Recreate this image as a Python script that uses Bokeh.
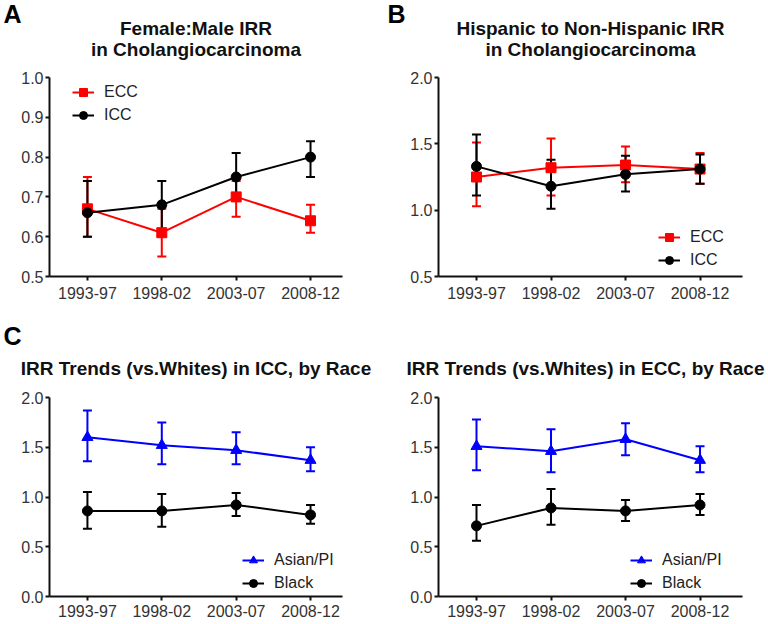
from bokeh.plotting import figure
from bokeh.models import (Range1d, FixedTicker, PrintfTickFormatter, Whisker, TeeHead,
                          ColumnDataSource, Legend, LegendItem, Title)
from bokeh.layouts import column, row
from bokeh.embed import file_html
from bokeh.resources import INLINE

FONT = "Liberation Sans"

periods = ["1993-97", "1998-02", "2003-07", "2008-12"]

# Panel A: Female:Male IRR
a_ecc = [0.67, 0.61, 0.70, 0.64]
a_ecc_lo = [0.60, 0.55, 0.65, 0.61]
a_ecc_hi = [0.75, 0.67, 0.74, 0.68]
a_icc = [0.66, 0.68, 0.75, 0.80]
a_icc_lo = [0.60, 0.62, 0.69, 0.75]
a_icc_hi = [0.74, 0.74, 0.81, 0.84]
a_yticks = [0.5, 0.6, 0.7, 0.8, 0.9, 1.0]

# Panel B: Hispanic to Non-Hispanic IRR
b_ecc = [1.25, 1.32, 1.34, 1.31]
b_ecc_lo = [1.03, 1.11, 1.21, 1.20]
b_ecc_hi = [1.51, 1.54, 1.48, 1.43]
b_icc = [1.33, 1.18, 1.27, 1.31]
b_icc_lo = [1.11, 1.01, 1.14, 1.20]
b_icc_hi = [1.57, 1.38, 1.41, 1.42]
b_yticks = [0.5, 1.0, 1.5, 2.0]

# Panel C: ICC by race
c_asian = [1.60, 1.52, 1.47, 1.37]
c_asian_lo = [1.36, 1.33, 1.33, 1.26]
c_asian_hi = [1.87, 1.75, 1.65, 1.50]
c_black = [0.86, 0.86, 0.92, 0.82]
c_black_lo = [0.68, 0.70, 0.81, 0.73]
c_black_hi = [1.05, 1.03, 1.04, 0.92]

# Panel D: ECC by race
d_asian = [1.51, 1.46, 1.58, 1.37]
d_asian_lo = [1.27, 1.25, 1.42, 1.25]
d_asian_hi = [1.78, 1.68, 1.74, 1.51]
d_black = [0.71, 0.89, 0.86, 0.92]
d_black_lo = [0.56, 0.72, 0.76, 0.82]
d_black_hi = [0.92, 1.08, 0.97, 1.03]
cd_yticks = [0.0, 0.5, 1.0, 1.5, 2.0]

titles = {
    "A": "Female:Male IRR\nin Cholangiocarcinoma",
    "B": "Hispanic to Non-Hispanic IRR\nin Cholangiocarcinoma",
    "C": "IRR Trends (vs.Whites) in ICC, by Race",
    "D": "IRR Trends (vs.Whites) in ECC, by Race",
}

RED = "#ff0000"
BLACK = "#000000"
BLUE = "#0000ff"
TEXT = "#333333"


def style_main_title(t, align, offset, standoff, valign):
    t.align = align
    t.offset = offset
    t.text_font = FONT
    t.text_font_size = "19px"
    t.text_font_style = "bold"
    t.text_color = "#111111"
    t.standoff = standoff
    t.text_align = "center"
    t.vertical_align = valign


def make_panel(title, title_align, title_offset, title_standoff, title_valign, letter,
               letter_offset, letter_standoff, width, height, borders, xr, yr, yticks,
               series, legend_loc, label_standoff):
    bl, br, bt, bb = borders
    p = figure(width=width, height=height, output_backend="svg", toolbar_location=None,
               x_range=Range1d(*xr), y_range=Range1d(*yr),
               title=(letter if letter else title),
               min_border_left=bl, min_border_right=br, min_border_top=bt,
               min_border_bottom=bb)
    p.outline_line_color = None
    p.grid.visible = False
    p.background_fill_color = "white"
    p.border_fill_color = "white"

    if letter:
        # panel letter is the outermost title; main title sits between it and the frame
        lt = p.title
        lt.align = "left"
        lt.offset = letter_offset
        lt.text_font = FONT
        lt.text_font_size = "25px"
        lt.text_font_style = "bold"
        lt.text_color = "#000000"
        try:
            lt.standoff = letter_standoff
        except Exception:
            lt.standoff = 0
        mt = Title(text=title)
        style_main_title(mt, title_align, title_offset, title_standoff, title_valign)
        p.add_layout(mt, "above")
    else:
        style_main_title(p.title, title_align, title_offset, title_standoff, title_valign)

    xs = list(range(len(periods)))
    for ax in (p.xaxis[0], p.yaxis[0]):
        ax.axis_line_width = 2
        ax.axis_line_color = "#111111"
        ax.major_tick_line_width = 2
        ax.major_tick_line_color = "#111111"
        ax.major_tick_in = 0
        ax.major_tick_out = 4
        ax.minor_tick_line_color = None
        ax.major_label_text_font = FONT
        ax.major_label_text_font_size = "16px"
        ax.major_label_text_color = TEXT
    p.xaxis.ticker = FixedTicker(ticks=xs)
    p.xaxis.major_label_overrides = {i: periods[i] for i in xs}
    p.xaxis.major_label_standoff = label_standoff
    p.yaxis.ticker = FixedTicker(ticks=yticks)
    p.yaxis.formatter = PrintfTickFormatter(format="%.1f")
    p.yaxis.major_label_standoff = 2

    items = []
    for name, vals, lo, hi, color, marker, msize in series:
        src = ColumnDataSource(dict(x=xs, y=vals, lo=lo, hi=hi))
        w = Whisker(base="x", upper="hi", lower="lo", source=src, line_color=color,
                    line_width=2,
                    upper_head=TeeHead(size=9, line_color=color, line_width=2),
                    lower_head=TeeHead(size=9, line_color=color, line_width=2))
        p.add_layout(w)
        ln = p.line("x", "y", source=src, line_color=color, line_width=2)
        sc = p.scatter("x", "y", source=src, marker=marker, size=msize,
                       fill_color=color, line_color=color)
        items.append(LegendItem(label=name, renderers=[ln, sc]))

    leg = Legend(items=items, location=legend_loc, background_fill_alpha=0,
                 border_line_alpha=0, padding=0, margin=0, spacing=3,
                 glyph_width=22, glyph_height=20, label_standoff=10,
                 label_text_font=FONT, label_text_font_size="16px",
                 label_text_color="#222222")
    p.add_layout(leg)
    return p


pa = make_panel(titles["A"], "center", 0, 31, "top", "A", -46, -50, 384, 310,
                (49, 42, 77, 34), (-0.51, 3.43), (0.5, 1.0), a_yticks,
                [("ECC", a_ecc, a_ecc_lo, a_ecc_hi, RED, "square", 10),
                 ("ICC", a_icc, a_icc_lo, a_icc_hi, BLACK, "circle", 10)],
                (23, 151), 6)

pb = make_panel(titles["B"], "center", 0, 31, "top", "B", -51, -50, 382, 310,
                (54, 24, 77, 34), (-0.51, 3.57), (0.5, 2.0), b_yticks,
                [("ECC", b_ecc, b_ecc_lo, b_ecc_hi, RED, "square", 10),
                 ("ICC", b_icc, b_icc_lo, b_icc_hi, BLACK, "circle", 10)],
                (220, 6), 6)

pc = make_panel(titles["C"], "center", 0, 38, "bottom", "C", -46, -26, 384, 312,
                (49, 42, 87, 26), (-0.51, 3.43), (0.0, 2.0), cd_yticks,
                [("Asian/PI", c_asian, c_asian_lo, c_asian_hi, BLUE, "triangle", 11),
                 ("Black", c_black, c_black_lo, c_black_hi, BLACK, "circle", 10)],
                (193, 3), 4)

pd_ = make_panel(titles["D"], "right", -22, 38, "bottom", "", 0, 0, 382, 312,
                 (54, 24, 87, 26), (-0.51, 3.57), (0.0, 2.0), cd_yticks,
                 [("Asian/PI", d_asian, d_asian_lo, d_asian_hi, BLUE, "triangle", 11),
                  ("Black", d_black, d_black_lo, d_black_hi, BLACK, "circle", 10)],
                 (192, 3), 4)

layout = column(row(pa, pb, spacing=0), row(pc, pd_, spacing=0), spacing=0)

with open("out.html", "w") as f:
    f.write(file_html(layout, INLINE))
